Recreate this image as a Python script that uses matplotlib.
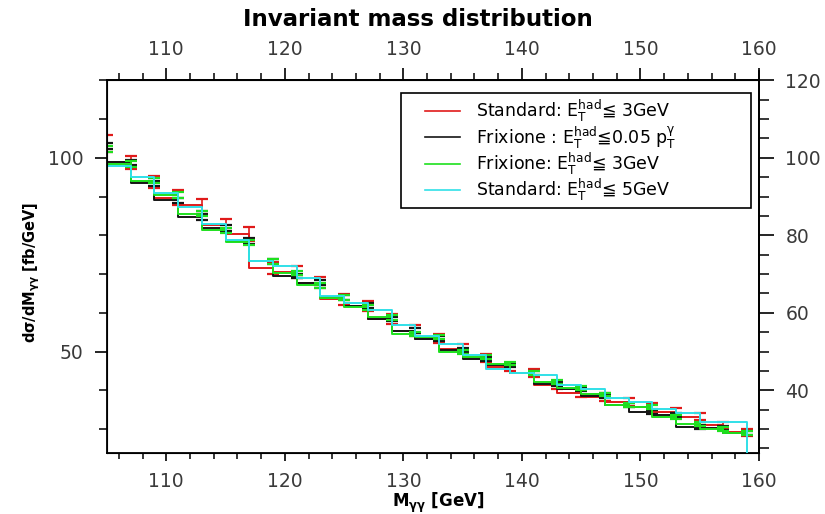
import matplotlib
matplotlib.use('Agg')
import matplotlib.pyplot as plt
from matplotlib.ticker import MultipleLocator, FixedLocator
from matplotlib.lines import Line2D
from matplotlib.legend_handler import HandlerLine2D

plt.rcParams['font.family'] = ['DejaVu Sans']
plt.rcParams['mathtext.fontset'] = 'dejavusans'

# upper edge of each 2 GeV bin (GeV); the value belongs to the bin on its left
mass = [105, 107, 109, 111, 113, 115, 117, 119, 121, 123, 125, 127, 129, 131,
        133, 135, 137, 139, 141, 143, 145, 147, 149, 151, 153, 155, 157, 159]

# dsigma/dM [fb/GeV]
std3 = [103.8, 98.8, 93.8, 89.7, 87.9, 82.6, 80.4, 71.6, 70.6, 67.8, 63.5, 61.8, 58.4, 55.4,
        53.3, 50.7, 48.3, 46.0, 44.5, 41.3, 39.3, 38.3, 37.0, 35.7, 34.4, 33.2, 31.0, 29.2]
frix005 = [103.0, 98.8, 93.4, 89.0, 84.7, 81.9, 78.5, 73.3, 69.5, 67.8, 64.0, 61.8, 58.4, 55.4,
           53.3, 50.3, 48.1, 46.5, 44.5, 41.7, 40.3, 38.6, 36.3, 34.3, 33.6, 30.6, 30.2, 29.0]
frix3 = [102.3, 98.4, 94.1, 90.4, 85.6, 81.3, 78.2, 73.3, 70.3, 67.1, 63.9, 61.4, 58.8, 54.5,
         53.7, 49.8, 48.5, 46.9, 44.5, 42.1, 40.6, 38.9, 36.2, 35.7, 33.2, 31.2, 30.0, 28.9]
std5 = [101.0, 97.9, 95.0, 91.0, 87.2, 83.0, 78.9, 73.3, 72.1, 69.1, 64.4, 62.6, 60.8, 56.8,
        54.1, 52.0, 49.0, 45.6, 44.5, 44.0, 41.3, 40.4, 37.9, 37.0, 35.1, 34.0, 31.9, 31.9]
std5_next = 0.0   # empty bin after 159 GeV

# statistical errors
std3_err = [2.2, 1.6, 1.6, 2.0, 1.5, 1.6, 1.8, 1.5, 1.6, 1.4, 1.4, 1.3, 1.3, 1.4,
            1.2, 1.2, 1.1, 1.1, 1.1, 1.0, 1.0, 1.0, 1.0, 1.0, 1.0, 1.0, 0.9, 0.9]
frix005_err = [0.8, 0.7, 0.7, 0.7, 0.7, 0.7, 0.7, 0.6, 0.6, 0.6, 0.6, 0.6, 0.6, 0.6,
               0.6, 0.5, 0.5, 0.5, 0.5, 0.5, 0.5, 0.5, 0.5, 0.5, 0.5, 0.5, 0.5, 0.5]
frix3_err = [0.8, 0.7, 0.7, 0.7, 0.7, 0.7, 0.7, 0.6, 0.6, 0.6, 0.6, 0.6, 0.6, 0.6,
             0.6, 0.5, 0.5, 0.5, 0.5, 0.5, 0.5, 0.5, 0.5, 0.5, 0.5, 0.5, 0.5, 0.5]

labels = [r'Standard: E$_\mathrm{T}^\mathrm{had}$≦ 3GeV',
          r'Frixione : E$_\mathrm{T}^\mathrm{had}$≦0.05 p$_\mathrm{T}^\mathrm{γ}$',
          r'Frixione: E$_\mathrm{T}^\mathrm{had}$≦ 3GeV',
          r'Standard: E$_\mathrm{T}^\mathrm{had}$≦ 5GeV']
colors = ['#e01a1a', '#151515', '#1ee01e', '#30e0e8']

fig = plt.figure(figsize=(8.25, 5.14), dpi=100)
ax = fig.add_axes([0.1297, 0.1187, 0.7903, 0.7257])

lw = 1.4
ax.step(mass, std3, where='pre', color=colors[0], lw=lw, label=labels[0], zorder=2)
ax.errorbar(mass, std3, yerr=std3_err, fmt='none', ecolor=colors[0], elinewidth=1.2,
            capsize=4.3, capthick=1.6, zorder=2)
ax.step(mass, frix005, where='pre', color=colors[1], lw=lw, label=labels[1], zorder=3)
ax.errorbar(mass, frix005, yerr=frix005_err, fmt='none', ecolor=colors[1], elinewidth=1.2,
            capsize=4.0, capthick=1.6, zorder=3)
ax.step(mass, frix3, where='pre', color=colors[2], lw=lw, label=labels[2], zorder=4)
ax.errorbar(mass, frix3, yerr=frix3_err, fmt='none', ecolor=colors[2], elinewidth=1.2,
            capsize=4.0, capthick=1.6, zorder=4)
ax.step(mass + [mass[-1] + 2], std5 + [std5_next], where='pre', color=colors[3], lw=lw,
        label=labels[3], zorder=5)

ax.set_xlim(105, 160)
ax.set_ylim(23.8, 120.1)

for s in ax.spines.values():
    s.set_linewidth(1.3)

tick_color = '#3a3a3a'
ax.xaxis.set_major_locator(MultipleLocator(10))
ax.xaxis.set_minor_locator(MultipleLocator(2))
ax.yaxis.set_major_locator(MultipleLocator(50))
ax.yaxis.set_minor_locator(MultipleLocator(10))
ax.tick_params(axis='x', which='major', direction='out', length=6, width=1.2, pad=8,
               labelsize=13.5, labelcolor=tick_color)
ax.tick_params(axis='x', which='minor', direction='out', length=4, width=1.1)
ax.tick_params(axis='y', which='major', direction='out', length=9, width=1.2, pad=8,
               labelsize=13.5, labelcolor=tick_color)
ax.tick_params(axis='y', which='minor', direction='out', length=6, width=1.1)

top = ax.secondary_xaxis('top')
top.xaxis.set_major_locator(FixedLocator([110, 120, 130, 140, 150, 160]))
top.xaxis.set_minor_locator(MultipleLocator(2))
top.tick_params(which='major', direction='out', length=9, width=1.2, pad=6,
                labelsize=13.5, labelcolor=tick_color)
top.tick_params(which='minor', direction='out', length=5, width=1.1)
top.spines['top'].set_linewidth(1.3)

right = ax.twinx()
right.set_ylim(ax.get_ylim())
right.yaxis.set_major_locator(MultipleLocator(20))
right.yaxis.set_minor_locator(MultipleLocator(5))
right.tick_params(which='major', direction='out', length=11, width=1.2, pad=8,
                  labelsize=13.5, labelcolor=tick_color)
right.tick_params(which='minor', direction='out', length=7, width=1.1)
right.spines['right'].set_linewidth(1.3)
right.spines['right'].set_bounds(23.8, 122.5)

# legend: handles indented from the frame like the original
leg = ax.legend(loc='upper left', bbox_to_anchor=(0.451, 0.965, 0.537, 0.0), mode='expand',
                borderaxespad=0, fontsize=12.5, handlelength=3.1, handletextpad=0.9,
                labelspacing=0.0, borderpad=0.3, fancybox=False, framealpha=1,
                edgecolor='black', handler_map={Line2D: HandlerLine2D(xpad=1.1)})
leg.get_frame().set_linewidth(1.2)
for line in leg.get_lines():
    line.set_linewidth(1.2)

fig.text(0.507, 0.962, 'Invariant mass distribution', ha='center', va='center',
         fontsize=16.5, fontweight='bold')
fig.text(0.531, 0.022, r'M$_\mathbf{γγ}$ [GeV]', ha='center', va='center',
         fontsize=12, fontweight='bold')
fig.text(0.038, 0.471, r'dσ/dM$_\mathbf{γγ}$ [fb/GeV]', ha='center', va='center',
         rotation=90, fontsize=10.5, fontweight='bold')

fig.savefig('out.png', dpi=100)
